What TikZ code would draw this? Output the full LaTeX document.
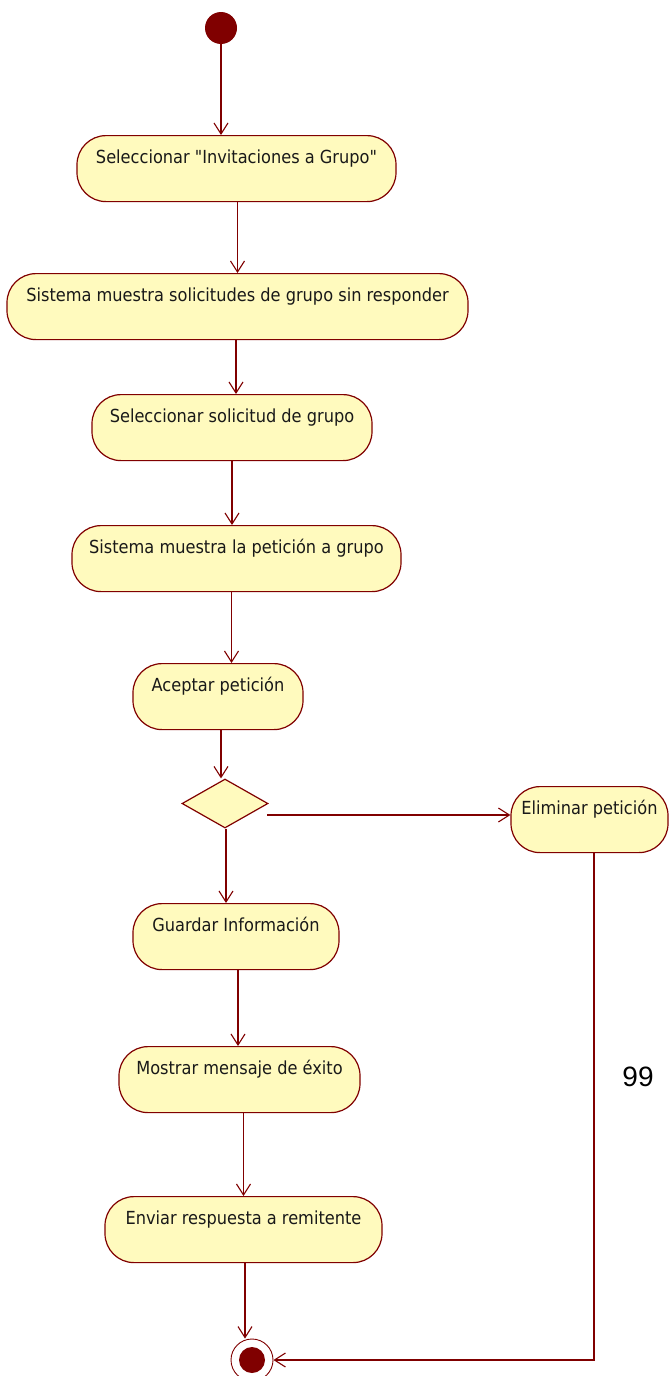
\documentclass[tikz,border=0pt]{standalone}
\usepackage{fontspec}
\newfontfamily\actfont{DejaVu Sans Condensed}
\newfontfamily\numfont{Liberation Sans}
\usetikzlibrary{shapes.geometric,arrows.meta}
\definecolor{umlred}{RGB}{128,0,0}
\definecolor{actfill}{RGB}{255,250,190}
\definecolor{actink}{RGB}{25,25,25}
\begin{document}
\begin{tikzpicture}[x=1pt,y=-1pt,
  action/.style={draw=umlred, fill=actfill, line width=1.2pt, rounded corners=29pt,
    minimum height=66pt, inner xsep=0pt, inner ysep=6pt, text height=22pt, text depth=32pt,
    font=\actfont\fontsize{18}{21}\selectfont, text=actink, anchor=north},
  flow/.style={draw=umlred, line width=1.1pt,
    -{Straight Barb[length=11pt,width=14pt,line width=1.1pt]}},
  decision/.style={diamond, draw=umlred, fill=actfill, line width=1.2pt, inner sep=0pt,
    minimum width=86pt, minimum height=49pt}]
\useasboundingbox (0,0) rectangle (670,1376);
\fill[white] (0,0) rectangle (670,1376);

% initial and final states
\node[circle, fill=umlred, minimum size=32pt, inner sep=0pt] (start) at (221,28) {};
\node[circle, draw=umlred, fill=white, line width=0.9pt, minimum size=42pt, inner sep=0pt] (fin) at (252,1360) {};
\node[circle, fill=umlred, minimum size=26pt, inner sep=0pt] (fincore) at (fin) {};

% activities
\node[action, minimum width=319pt] (n1) at (236.5,135) {Seleccionar "Invitaciones a Grupo"};
\node[action, minimum width=461pt] (n2) at (237.5,273) {Sistema muestra solicitudes de grupo sin responder};
\node[action, minimum width=280pt] (n3) at (232,394) {Seleccionar solicitud de grupo};
\node[action, minimum width=329pt] (n4) at (236.5,525) {Sistema muestra la petición a grupo};
\node[action, minimum width=170pt] (n5) at (218,663) {Aceptar petición};
\node[decision] (dec) at (225,803.5) {};
\node[action, minimum width=157pt] (elim) at (589.5,786) {Eliminar petición};
\node[action, minimum width=206pt] (n6) at (236,903) {Guardar Información};
\node[action, minimum width=241pt] (n7) at (239.5,1046) {Mostrar mensaje de éxito};
\node[action, minimum width=277pt] (n8) at (243.5,1196) {Enviar respuesta a remitente};

% page number
\node[font=\numfont\fontsize{28}{30}\selectfont] (pagenum) at (638,1077) {99};

% transitions
\draw[flow] (start.south) -- ([xshift=-15.5pt]n1.north);
\draw[flow] ([xshift=1pt]n1.south) -- (n2.north);
\draw[flow] ([xshift=-1.5pt]n2.south) -- ([xshift=4pt]n3.north);
\draw[flow] (n3.south) -- ([xshift=-4.5pt]n4.north);
\draw[flow] ([xshift=-5pt]n4.south) -- ([xshift=13.5pt]n5.north);
\draw[flow] ([xshift=3pt]n5.south) -- ([xshift=-4pt]dec.north);
\coordinate (decout) at (267,815);
\draw[flow] (decout) -- (elim.west |- decout);
\draw[flow] ([xshift=1pt]dec.south) -- ([xshift=-10pt]n6.north);
\draw[flow] ([xshift=2pt]n6.south) -- ([xshift=-1.5pt]n7.north);
\draw[flow] ([xshift=4pt]n7.south) -- (n8.north);
\draw[flow] ([xshift=1.5pt]n8.south) -- ([xshift=-7pt]fin.north);
\draw[flow] ([xshift=4.5pt]elim.south) |- (fin.east);
\end{tikzpicture}
\end{document}
